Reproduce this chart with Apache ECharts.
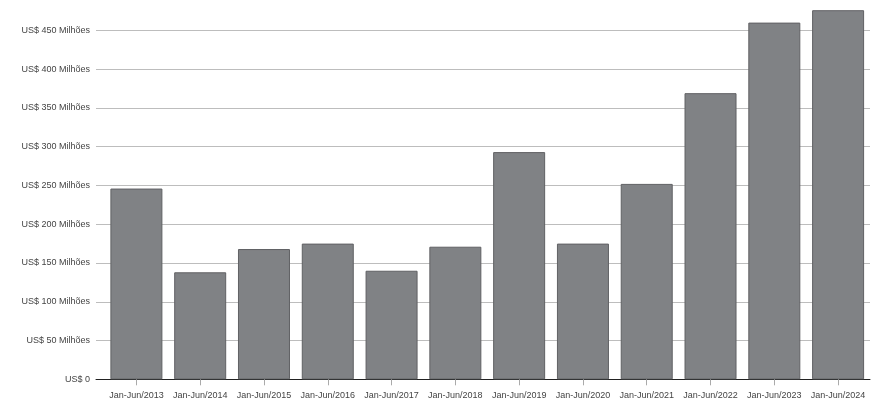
<!DOCTYPE html>
<html>
<head>
<meta charset="utf-8">
<script src="https://cdn.jsdelivr.net/npm/echarts@6/dist/echarts.min.js"></script>
<style>html,body{margin:0;padding:0;background:#fff;}#c{width:876px;height:410px;}</style>
</head>
<body>
<div id="c"></div>
<script>
const categories = ["Jan-Jun/2013","Jan-Jun/2014","Jan-Jun/2015","Jan-Jun/2016","Jan-Jun/2017","Jan-Jun/2018","Jan-Jun/2019","Jan-Jun/2020","Jan-Jun/2021","Jan-Jun/2022","Jan-Jun/2023","Jan-Jun/2024"];
const values = [246, 138, 168, 175, 140, 171, 293, 175, 252, 369, 460, 476];
const yTicks = [0, 50, 100, 150, 200, 250, 300, 350, 400, 450];

const chart = echarts.init(document.getElementById('c'), null, {renderer: 'canvas'});
const lineColors = yTicks.map(() => '#bdbdbd').concat(['rgba(0,0,0,0)']);
const fmt = v => yTicks.indexOf(v) < 0 ? '' : (v === 0 ? 'US$ 0' : 'US$ ' + v + ' Milhões');
chart.setOption({
  animation: false,
  textStyle: {fontFamily: 'Liberation Sans'},
  grid: [
    {left: 104.5, right: 6, top: 7.1, bottom: 30.7, containLabel: false},
    {left: 96, right: 6, top: 7.1, bottom: 30.7, containLabel: false}
  ],
  xAxis: [{
    type: 'category',
    gridIndex: 0,
    data: categories,
    axisLine: {show: false},
    axisTick: {show: true, alignWithLabel: true, length: 6, lineStyle: {color: '#aaa'}},
    axisLabel: {fontSize: 9, color: '#444', margin: 12, interval: 0}
  }, {
    type: 'value',
    gridIndex: 1,
    min: 0, max: 1,
    axisLine: {show: true, lineStyle: {color: '#222', width: 1}},
    axisTick: {show: false},
    axisLabel: {show: false},
    splitLine: {show: false}
  }],
  yAxis: [{
    type: 'value',
    gridIndex: 0,
    min: 0, max: 480, interval: 50,
    axisLine: {show: false},
    axisTick: {show: false},
    axisLabel: {show: false},
    splitLine: {show: false}
  }, {
    type: 'value',
    gridIndex: 1,
    min: 0, max: 480, interval: 50,
    axisLine: {show: false},
    axisTick: {show: false},
    splitLine: {show: true, lineStyle: {color: lineColors, width: 1}},
    axisLabel: {fontSize: 9, color: '#444', margin: 6, showMaxLabel: false, formatter: fmt}
  }],
  series: [{
    type: 'bar',
    xAxisIndex: 0,
    yAxisIndex: 0,
    data: values,
    barWidth: 52,
    itemStyle: {color: '#808285', borderColor: '#606164', borderWidth: 1}
  }]
});
</script>
</body>
</html>
